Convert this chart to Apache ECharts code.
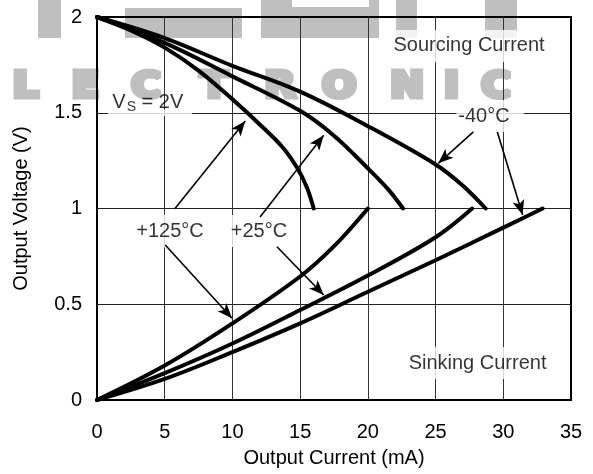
<!DOCTYPE html>
<html>
<head>
<meta charset="utf-8">
<script src="https://cdn.jsdelivr.net/npm/echarts@6/dist/echarts.min.js"></script>
<style>
html,body{margin:0;padding:0;background:#fff}
#chart{width:593px;height:474px}
</style>
</head>
<body>
<div id="chart"></div>
<script>
// ---- data ----
const xTicks = [0, 5, 10, 15, 20, 25, 30, 35];
const yTicks = [0, 0.5, 1, 1.5, 2];

// Sourcing current curves [mA, V]
const sourcing125 = [[0,2],[2.5,1.93],[5,1.84],[7.5,1.72],[10,1.57],[12,1.44],[13.7,1.32],[14.8,1.21],[15.5,1.11],[16,1.0]];
const sourcing25  = [[0,2],[5,1.865],[10,1.69],[15,1.51],[17.5,1.38],[20,1.21],[21.5,1.1],[22.6,1.0]];
const sourcingM40 = [[0,2],[5,1.89],[10,1.745],[15,1.61],[20,1.43],[25,1.23],[27,1.12],[28.7,1.0]];

// Sinking current curves [mA, V]
const sinking125 = [[0,0],[5,0.18],[10,0.40],[15,0.645],[17.6,0.81],[20,1.0]];
const sinking25  = [[0,0],[5,0.14],[10,0.295],[15,0.47],[20,0.65],[25,0.85],[27.7,1.0]];
const sinkingM40 = [[0,0],[5,0.11],[10,0.25],[15,0.40],[20,0.565],[25,0.73],[30,0.9],[32.9,1.0]];

// Annotation arrows: [from, to] in data units
const arrowFrom = [[5.76,1.0],[12.04,0.956],[5.04,0.809],[13.29,0.80],[27.79,1.40],[29.56,1.40]];
const arrowTo   = [[10.95,1.457],[16.74,1.382],[9.97,0.427],[16.74,0.548],[25.2,1.236],[31.43,0.966]];

// Annotation texts and anchor positions (data units)
const noteTexts = ['Sourcing Current','Sinking Current','-40°C','+125°C','+25°C'];
const notePos   = [[27.47,1.849],[28.1,0.193],[29.02,1.483],[5.39,0.882],[11.96,0.882]];
const vsPos  = [3.75,1.55];
const vsGap  = [3.91,1.5];

// Background watermark text
const watermarkLetters = ['L','E','C','T','R','O','N','I','C'];

// ---- styling ----
const FONT = 'Liberation Sans, Arial, Helvetica, sans-serif';
const notePadding = [[6,6,6,6],[6,6,6,6],[6,14,6,2],[10,4,3,4],[6,4,6,4]];
const WM = '#bfbfbf';

const chart = echarts.init(document.getElementById('chart'), null, {renderer:'canvas'});

function curve(name, data){
  return {
    name, type:'line', data, smooth:0.35,
    showSymbol:false, symbol:'none', z:2,
    lineStyle:{color:'#000', width:4, cap:'round', join:'round'},
    animation:false
  };
}

const wmCenters = [25.5,85.5,146,214,280,339,407,451.5,496];
const wmRects = [[38,0,23,38],[125,8,117,30],[261,7,118,31],[261,0,31,7],[369,0,10,7],[396,0,21,38],[485,0,32,38]];

const graphics = [];
wmRects.forEach(r => graphics.push({
  type:'rect', z:-10, silent:true,
  shape:{x:r[0], y:r[1], width:r[2], height:r[3]},
  style:{fill:WM}
}));
watermarkLetters.forEach((ch,i) => graphics.push({
  type:'text', z:-10, silent:true,
  x:wmCenters[i], y:88, scaleX:1.15,
  style:{text:ch, fill:WM, stroke:WM, lineWidth:5,
         font:'900 35px "DejaVu Sans", "Liberation Sans", sans-serif',
         align:'center', verticalAlign:'middle', textAlign:'center', textVerticalAlign:'middle'}
}));

const option = {
  backgroundColor:'#fff',
  animation:false,
  textStyle:{fontFamily:FONT},
  grid:{left:97, right:22, top:17, bottom:74, show:true, borderColor:'#000', borderWidth:2, backgroundColor:'transparent'},
  xAxis:{
    type:'value', min:xTicks[0], max:xTicks[xTicks.length-1], interval:5,
    name:'Output Current (mA)', nameLocation:'middle', nameGap:48,
    nameTextStyle:{fontSize:20, color:'#000', fontFamily:FONT},
    axisLine:{show:false}, axisTick:{show:false},
    axisLabel:{fontSize:20, color:'#000', margin:22, fontFamily:FONT},
    splitLine:{show:true, showMinLine:false, showMaxLine:false, lineStyle:{color:'#333', width:1}}
  },
  yAxis:{
    type:'value', min:yTicks[0], max:yTicks[yTicks.length-1], interval:0.5,
    name:'Output Voltage (V)', nameLocation:'middle', nameGap:66,
    nameTextStyle:{fontSize:20, color:'#000', fontFamily:FONT},
    axisLine:{show:false}, axisTick:{show:false},
    axisLabel:{fontSize:20, color:'#000', margin:15, fontFamily:FONT},
    splitLine:{show:true, showMinLine:false, showMaxLine:false, lineStyle:{color:'#222', width:1}}
  },
  graphic:{elements:graphics},
  series:[
    curve('Sourcing +125°C', sourcing125),
    curve('Sourcing +25°C', sourcing25),
    curve('Sourcing -40°C', sourcingM40),
    curve('Sinking +125°C', sinking125),
    curve('Sinking +25°C', sinking25),
    curve('Sinking -40°C', sinkingM40),
    {
      name:'notes', type:'scatter', z:3, symbolSize:0, silent:true, animation:false,
      itemStyle:{color:'rgba(0,0,0,0)'},
      data: noteTexts.map((t,i) => ({
        value: notePos[i],
        label:{show:true, position:'inside', formatter:t, color:'#000', fontSize:20,
               fontFamily:FONT, backgroundColor:'#fff', padding:notePadding[i]}
      })).concat([
        {
          value: vsGap,
          label:{show:true, position:'inside', formatter:'{g| }',
                 rich:{g:{width:84, height:6, lineHeight:6, fontSize:4, backgroundColor:'#fff'}}}
        },
        {
          value: vsPos,
          label:{show:true, position:'inside', formatter:'{a|V}{b|S}{a| = 2V}',
                 rich:{
                   a:{fontSize:20, lineHeight:22, verticalAlign:'top', color:'#000', fontFamily:FONT},
                   b:{fontSize:14, lineHeight:14, verticalAlign:'bottom', color:'#000', fontFamily:FONT, padding:[10,0,0,1]}
                 }}
        }
      ])
    },
    {
      name:'arrows', type:'line', data:[], z:4, silent:true, animation:false,
      markLine:{
        silent:true, animation:false, symbol:['none','arrow'], symbolSize:[9,15],
        label:{show:false},
        lineStyle:{color:'#000', width:1.6, type:'solid'},
        data: arrowFrom.map((f,i) => [{coord:f},{coord:arrowTo[i]}])
      }
    }
  ]
};
chart.setOption(option);
</script>
</body>
</html>
